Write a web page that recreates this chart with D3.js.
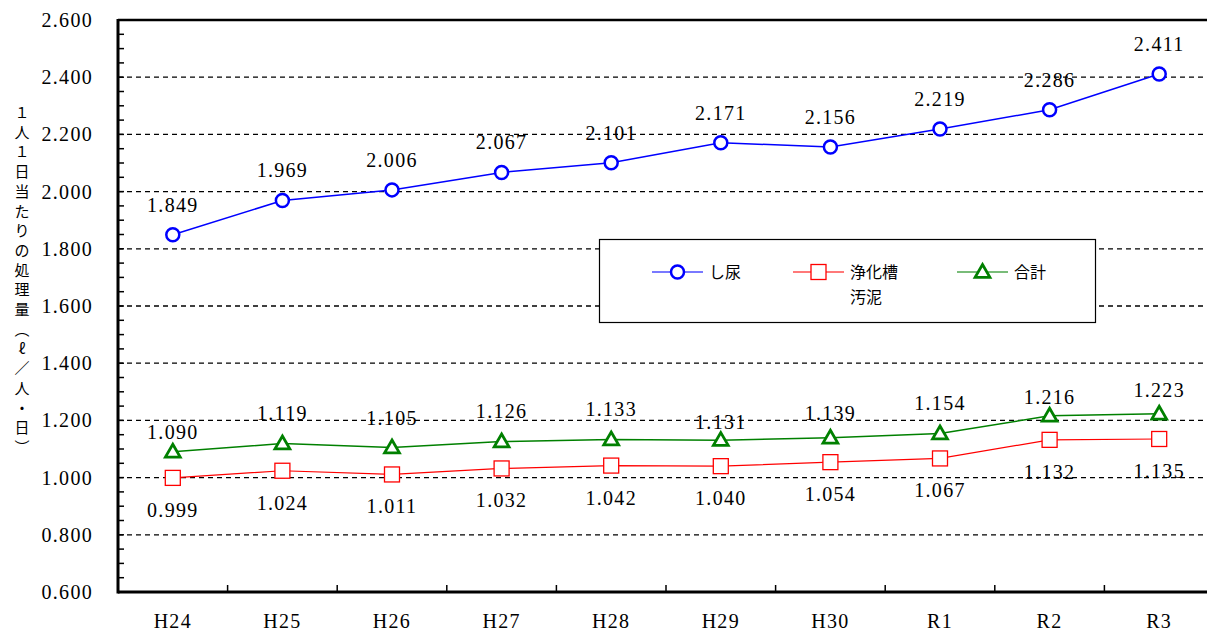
<!DOCTYPE html>
<html>
<head>
<meta charset="utf-8">
<script src="https://cdn.jsdelivr.net/npm/d3@7"></script>
<style>
  body { margin: 0; background: #fff; }
  svg { display: block; }
</style>
</head>
<body>
<svg></svg>
<script>
// data
var years = ["H24", "H25", "H26", "H27", "H28", "H29", "H30", "R1", "R2", "R3"];
var shinyo = [1.849, 1.969, 2.006, 2.067, 2.101, 2.171, 2.156, 2.219, 2.286, 2.411];
var jokaso = [0.999, 1.024, 1.011, 1.032, 1.042, 1.040, 1.054, 1.067, 1.132, 1.135];
var gokei = [1.090, 1.119, 1.105, 1.126, 1.133, 1.131, 1.139, 1.154, 1.216, 1.223];
var yTicks = [0.6, 0.8, 1.0, 1.2, 1.4, 1.6, 1.8, 2.0, 2.2, 2.4, 2.6];
var yTitle = ["１", "人", "１", "日", "当", "た", "り", "の", "処", "理", "量", "︵", "ℓ", "／", "人", "・", "日", "︶"];

// label offsets for the green series (the labels sit a bit irregularly)
var gokeiLabelDy = [-20, -31, -30, -31, -31, -18, -25, -31, -19, -24];

var screen = {width: 1207, height: 632};
var margins = {top: 20, left: 118, right: -7, bottom: 40};

var svg = d3.select("svg")
            .attr("width", screen.width)
            .attr("height", screen.height);

var serif = "'Liberation Serif', 'DejaVu Serif', serif";
var sans = "'Noto Sans CJK JP', 'Noto Sans', sans-serif";
var numSize = 20, numSpacing = "1.3px";

//scales
var xScale = d3.scaleBand()
               .domain(years)
               .range([margins.left, screen.width - margins.right]);

var yScale = d3.scaleLinear()
               .domain([0.6, 2.6])
               .range([screen.height - margins.bottom, margins.top]);

var x0 = margins.left, x1 = screen.width;
var yb = yScale(0.6), yt = yScale(2.6);

//grid
svg.append("g")
   .selectAll("line")
   .data(yTicks.filter(function(d){return d > 0.6 && d < 2.6}))
   .enter()
   .append("line")
   .attr("x1", x0).attr("x2", x1)
   .attr("y1", function(d){return yScale(d)})
   .attr("y2", function(d){return yScale(d)})
   .attr("stroke", "#000")
   .attr("stroke-width", 1.3)
   .attr("stroke-dasharray", "5,4");

//y minor ticks
var minor = d3.range(0, 41).map(function(i){return 0.6 + i * 0.05});
svg.append("g")
   .selectAll("line")
   .data(minor)
   .enter()
   .append("line")
   .attr("x1", x0).attr("x2", x0 + 6)
   .attr("y1", function(d){return yScale(d)})
   .attr("y2", function(d){return yScale(d)})
   .attr("stroke", "#000")
   .attr("stroke-width", 1.5);

//y labels
svg.append("g")
   .selectAll("text")
   .data(yTicks)
   .enter()
   .append("text")
   .attr("x", 93)
   .attr("y", function(d){return yScale(d) + 7})
   .attr("text-anchor", "end")
   .attr("font-family", serif)
   .attr("font-size", numSize)
   .style("letter-spacing", numSpacing)
   .text(function(d){return d3.format(".3f")(d)});

//x ticks between categories
svg.append("g")
   .selectAll("line")
   .data(years.slice(1))
   .enter()
   .append("line")
   .attr("x1", function(d){return xScale(d)})
   .attr("x2", function(d){return xScale(d)})
   .attr("y1", yb).attr("y2", yb - 7)
   .attr("stroke", "#000")
   .attr("stroke-width", 1.5);

//x labels
svg.append("g")
   .selectAll("text")
   .data(years)
   .enter()
   .append("text")
   .attr("x", function(d){return xScale(d) + xScale.bandwidth()/2})
   .attr("y", 628)
   .attr("text-anchor", "middle")
   .attr("font-family", serif)
   .attr("font-size", numSize)
   .style("letter-spacing", numSpacing)
   .text(function(d){return d});

//frame
svg.append("line").attr("x1", x0).attr("x2", x1).attr("y1", yt).attr("y2", yt)
   .attr("stroke", "#000").attr("stroke-width", 2.5);
svg.append("line").attr("x1", x0).attr("x2", x1).attr("y1", yb).attr("y2", yb)
   .attr("stroke", "#000").attr("stroke-width", 3);
svg.append("line").attr("x1", x0).attr("x2", x0).attr("y1", yt - 1).attr("y2", yb + 1.5)
   .attr("stroke", "#000").attr("stroke-width", 3);

//y title, one glyph per row
svg.append("g")
   .selectAll("text")
   .data(yTitle)
   .enter()
   .append("text")
   .attr("x", 22)
   .attr("y", function(d, i){return 118 + i * 19.7})
   .attr("text-anchor", "middle")
   .attr("font-family", sans)
   .attr("font-size", 15)
   .text(function(d){return d});

var cx = function(d, i){return xScale(years[i]) + xScale.bandwidth()/2};

var line = d3.line()
             .x(function(d, i){return cx(d, i)})
             .y(function(d){return yScale(d)});

var series = [
  {name: "shinyo", values: shinyo, color: "#0000ff", width: 1.5},
  {name: "jokaso", values: jokaso, color: "#ff0000", width: 1.2},
  {name: "gokei", values: gokei, color: "#008000", width: 1.5}
];

series.forEach(function(s){
  svg.append("path")
     .datum(s.values)
     .attr("d", line)
     .attr("fill", "none")
     .attr("stroke", s.color)
     .attr("stroke-width", s.width);
});

var tri = d3.symbol().type(d3.symbolTriangle).size(95);

function circleMark(g, x, y){
  g.append("circle").attr("cx", x).attr("cy", y).attr("r", 6.5)
   .attr("fill", "#fff").attr("stroke", "#0000ff").attr("stroke-width", 2.5);
}
function squareMark(g, x, y){
  g.append("rect").attr("x", x - 7.5).attr("y", y - 7.5).attr("width", 15).attr("height", 15)
   .attr("fill", "#fff").attr("stroke", "#ff0000").attr("stroke-width", 1.3);
}
function triMark(g, x, y){
  g.append("path").attr("d", tri).attr("transform", "translate(" + x + "," + (y + 1) + ")")
   .attr("fill", "#fff").attr("stroke", "#008000").attr("stroke-width", 2.8);
}

var marks = svg.append("g");
jokaso.forEach(function(d, i){squareMark(marks, cx(d, i), yScale(d))});
gokei.forEach(function(d, i){triMark(marks, cx(d, i), yScale(d))});
shinyo.forEach(function(d, i){circleMark(marks, cx(d, i), yScale(d))});

//data labels
function labels(values, dyFn){
  svg.append("g")
     .selectAll("text")
     .data(values)
     .enter()
     .append("text")
     .attr("x", function(d, i){return cx(d, i)})
     .attr("y", function(d, i){return yScale(d) + dyFn(i) + 7})
     .attr("text-anchor", "middle")
     .attr("font-family", serif)
     .attr("font-size", numSize)
     .style("letter-spacing", numSpacing)
     .text(function(d){return d3.format(".3f")(d)});
}
labels(shinyo, function(){return -30});
labels(jokaso, function(){return 32});
labels(gokei, function(i){return gokeiLabelDy[i]});

//legend
var lg = svg.append("g");
lg.append("rect").attr("x", 599.5).attr("y", 239.5).attr("width", 496).attr("height", 83)
  .attr("fill", "#fff").attr("stroke", "#000").attr("stroke-width", 1.2);

var legendItems = [
  {label: ["し尿"], color: "#0000ff", mark: circleMark, x: 652},
  {label: ["浄化槽", "汚泥"], color: "#ff0000", mark: squareMark, x: 793},
  {label: ["合計"], color: "#008000", mark: triMark, x: 957}
];
legendItems.forEach(function(it){
  var ly = 272;
  lg.append("line").attr("x1", it.x).attr("x2", it.x + 51).attr("y1", ly).attr("y2", ly)
    .attr("stroke", it.color).attr("stroke-width", 1.5).attr("stroke-opacity", 0.7);
  it.mark(lg, it.x + 25.5, ly);
  it.label.forEach(function(t, k){
    lg.append("text")
      .attr("x", it.x + 57)
      .attr("y", ly + 6 + k * 25)
      .attr("font-family", sans)
      .attr("font-size", 16)
      .text(t);
  });
});
</script>
</body>
</html>
